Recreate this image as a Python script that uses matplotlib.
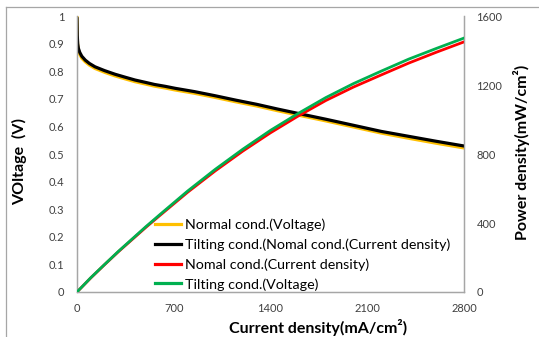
import matplotlib
matplotlib.use("Agg")
import matplotlib.pyplot as plt
from matplotlib.lines import Line2D

# Voltage data (left axis)
current_v = [0, 2, 5, 10, 20, 35, 60, 90, 130, 200, 275, 350, 420, 500, 560, 640, 710,
             850, 1000, 1150, 1300, 1450, 1600, 1800, 2000, 2200, 2400, 2600, 2800]
volt_tilt = [0.99, 0.93, 0.90, 0.883, 0.868, 0.854, 0.840, 0.828, 0.816, 0.802, 0.789, 0.778,
             0.768, 0.759, 0.752, 0.745, 0.738, 0.726, 0.711, 0.695, 0.680, 0.663, 0.647,
             0.626, 0.604, 0.582, 0.564, 0.546, 0.529]
volt_normal = [1.0, 0.92, 0.893, 0.876, 0.861, 0.847, 0.834, 0.822, 0.810, 0.796, 0.783, 0.772,
               0.762, 0.753, 0.746, 0.739, 0.732, 0.720, 0.705, 0.689, 0.674, 0.657, 0.641,
               0.620, 0.598, 0.576, 0.557, 0.539, 0.522]

# Power density data (right axis)
current_p = [0, 100, 200, 300, 400, 500, 600, 700, 800, 1000, 1200, 1400, 1600, 1800,
             2000, 2200, 2400, 2600, 2800]
power_tilt = [0, 83, 160, 236, 308, 380, 449, 517, 585, 711, 828, 937, 1035, 1127,
              1208, 1280, 1350, 1412, 1472]
power_normal = [0, 82, 159, 234, 305, 376, 444, 511, 578, 702, 817, 923, 1020, 1110,
                1188, 1258, 1327, 1390, 1450]

labels = ["Normal cond.(Voltage)",
          "Tilting cond.(Nomal cond.(Current density)",
          "Nomal cond.(Current density)",
          "Tilting cond.(Voltage)"]

x_ticks = [0, 700, 1400, 2100, 2800]
y_ticks = [0, 0.1, 0.2, 0.3, 0.4, 0.5, 0.6, 0.7, 0.8, 0.9, 1]
y2_ticks = [0, 400, 800, 1200, 1600]

plt.rcParams['font.family'] = ['Lato', 'DejaVu Sans']

W, H = 539, 337
fig = plt.figure(figsize=(W / 100, H / 100), dpi=100)
ax = fig.add_axes([77 / W, 1 - 292 / H, 387 / W, 276 / H])
ax2 = ax.twinx()

c_orange = '#FFC000'
c_black = '#000000'
c_red = '#FF0000'
c_green = '#00B050'

l1, = ax.plot(current_v, volt_normal, color=c_orange, lw=2.3, zorder=2)
l2, = ax.plot(current_v, volt_tilt, color=c_black, lw=2.3, zorder=3)
l3, = ax2.plot(current_p, power_normal, color=c_red, lw=2.0, zorder=2)
l4, = ax2.plot(current_p, power_tilt, color=c_green, lw=2.0, zorder=3)

ax.set_xlim(0, 2800)
ax.set_ylim(0, 1)
ax2.set_ylim(0, 1600)
ax.set_xticks(x_ticks)
ax.set_xticklabels([str(v) for v in x_ticks])
ax.set_yticks(y_ticks)
ax.set_yticklabels([('%g' % v) for v in y_ticks])
ax2.set_yticks(y2_ticks)
ax2.set_yticklabels([str(v) for v in y2_ticks])

tick_color = '#404040'
ax.tick_params(axis='x', length=0, pad=8, labelsize=8, labelcolor=tick_color)
ax.tick_params(axis='y', length=0, pad=9, labelsize=8, labelcolor=tick_color)
ax2.tick_params(axis='y', length=0, pad=9, labelsize=8, labelcolor=tick_color)

spine_color = '#A6A6A6'
for a in (ax, ax2):
    a.spines['top'].set_visible(False)
    for s in ('left', 'right', 'bottom'):
        a.spines[s].set_color(spine_color)
        a.spines[s].set_linewidth(0.9)

ax.set_xlabel('Current density(mA/cm²)', fontsize=11.5, fontweight='bold', va='center')
ax.set_ylabel('VOltage  (V)', fontsize=11.5, fontweight='bold', va='center')
ax2.set_ylabel('Power density(mW/cm²)', fontsize=11.5, fontweight='bold', va='center', rotation=90)
ax.xaxis.set_label_coords((318 - 77) / 387, (292 - 328) / 276)
ax.yaxis.set_label_coords((20 - 77) / 387, (292 - 161) / 276)
ax2.yaxis.set_label_coords((522 - 77) / 387, (292 - 152) / 276)

leg = ax2.legend([l1, l2, l3, l4], labels, loc='upper left',
                 bbox_to_anchor=((155 - 77) / 387, (292 - 218) / 276),
                 frameon=False, fontsize=10.3, handlelength=1.85, handletextpad=0.25,
                 labelspacing=0.52, borderpad=0, borderaxespad=0)
for h in leg.get_lines():
    h.set_linewidth(2.3)

# outer chart border
fig.add_artist(Line2D([5.5 / W, 5.5 / W], [0, 1 - 6.5 / H], transform=fig.transFigure,
                      color='#A6A6A6', lw=0.9))
fig.add_artist(Line2D([5.5 / W, 1], [1 - 6.5 / H, 1 - 6.5 / H], transform=fig.transFigure,
                      color='#A6A6A6', lw=0.9))

fig.savefig('out.png', dpi=100)
